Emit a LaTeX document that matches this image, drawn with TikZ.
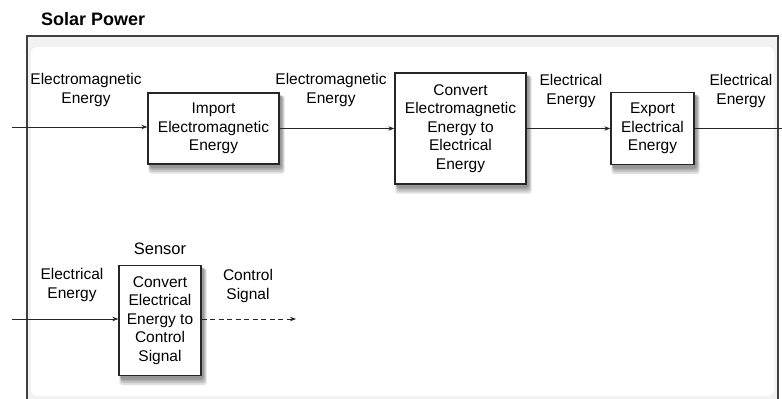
\documentclass[tikz,border=0pt]{standalone}
\usepackage{fontspec}
\setmainfont{Liberation Sans}
\usetikzlibrary{arrows.meta,calc}
\pgfdeclarelayer{bg}
\pgfdeclarelayer{shad}
\pgfsetlayers{bg,shad,main}
\begin{document}
\begin{tikzpicture}[x=1pt,y=-1pt,
  lbl/.style={align=center,font=\fontsize{15.5}{18.5}\selectfont,inner sep=0pt},
  fbox/.style={draw=black!85,line width=1.3pt,fill=white,align=center,
    font=\fontsize{15.5}{18.5}\selectfont,inner sep=0pt},
  shd/.style={fill=black,opacity=0.12,rounded corners=3pt},
  arr/.style={line width=0.9pt,draw=black!85,-{Stealth[length=6pt,width=4.5pt]}},
  ln/.style={line width=0.9pt,draw=black!85}]
\useasboundingbox (0,0) rectangle (782,399);
% frame
\begin{pgfonlayer}{bg}
\fill[gray!10] (27,36) rectangle (778,405);
\fill[white,rounded corners=6pt] (31,47) rectangle (774,396);
\draw[line width=1.6pt,black!75] (27,405) -- (27,36) -- (778,36) -- (778,405);
\end{pgfonlayer}
\node[font=\fontsize{18}{20}\selectfont\bfseries,anchor=west,inner sep=0pt] (title) at (41,19) {Solar Power};
% boxes
\node[fbox,minimum width=131pt,minimum height=71pt] (imp) at (213.5,128.5) {Import\\Electromagnetic\\Energy};
\node[fbox,minimum width=131pt,minimum height=111pt] (conv) at (460.5,128.5) {Convert\\Electromagnetic\\Energy to\\Electrical\\Energy};
\node[fbox,minimum width=83pt,minimum height=72pt] (exp) at (652.5,128.5) {Export\\Electrical\\Energy};
\node[fbox,minimum width=82pt,minimum height=110pt] (sens) at (160,320.5) {Convert\\Electrical\\Energy to\\Control\\Signal};
\node[font=\fontsize{16.5}{19}\selectfont,inner sep=0pt] (senst) at (160,249) {Sensor};
% shadows
\begin{pgfonlayer}{shad}
\foreach \n in {imp,conv,exp,sens}{
  \fill[shd] ($(\n.north west)+(1,3)$) rectangle ($(\n.south east)+(5,9)$);
  \fill[shd] ($(\n.north west)+(2,3)$) rectangle ($(\n.south east)+(4,7)$);
  \fill[shd] ($(\n.north west)+(2,3)$) rectangle ($(\n.south east)+(3,5)$);
  \fill[shd] ($(\n.north west)+(2,3)$) rectangle ($(\n.south east)+(2,3.5)$);
}
\end{pgfonlayer}
% labels
\node[lbl] (l1) at (86,90) {Electromagnetic\\Energy};
\node[lbl] (l2) at (331,90) {Electromagnetic\\Energy};
\node[lbl] (l3) at (571,91) {Electrical\\Energy};
\node[lbl] (l4) at (741,91) {Electrical\\Energy};
\node[lbl] (l5) at (72,285) {Electrical\\Energy};
\node[lbl] (l6) at (248,286) {Control\\Signal};
% connectors
\coordinate (in1) at (12,127);
\coordinate (out1) at (782,128.5);
\coordinate (in2) at (12,319);
\coordinate (out2) at (296,319);
\draw[arr] (in1) -- (in1 -| imp.west);
\draw[arr] (imp.east) -- (conv.west);
\draw[arr] (conv.east) -- (exp.west);
\draw[ln] (exp.east) -- (out1);
\draw[arr] (in2) -- (in2 -| sens.west);
\draw[arr,dashed,dash pattern=on 5pt off 3.5pt] (out2 -| sens.east) -- (out2);
\end{tikzpicture}
\end{document}
